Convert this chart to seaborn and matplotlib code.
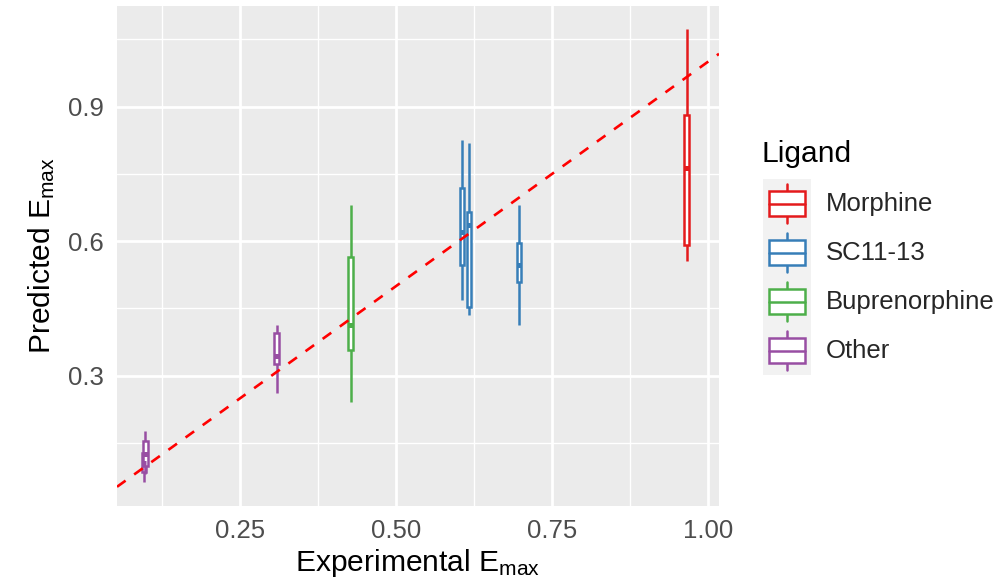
import numpy as np
import pandas as pd
import matplotlib
matplotlib.use("Agg")
import matplotlib.pyplot as plt
import seaborn as sns
from matplotlib.lines import Line2D
from matplotlib.patches import Rectangle
from matplotlib.legend_handler import HandlerBase

# ---------------- data ----------------
ligands = ["Morphine", "SC11-13", "Buprenorphine", "Other"]
ligand_colors = ["#E41A1C", "#377EB8", "#4DAF4A", "#984EA3"]

compound_ligand = ["Morphine", "SC11-13", "SC11-13", "SC11-13",
                   "Buprenorphine", "Other", "Other", "Other"]
experimental_emax = [0.966, 0.606, 0.617, 0.697, 0.427, 0.0955, 0.0975, 0.308]
pred_min = [0.556, 0.469, 0.435, 0.413, 0.241, 0.062, 0.080, 0.262]
pred_q1 = [0.592, 0.547, 0.454, 0.508, 0.357, 0.085, 0.098, 0.326]
pred_median = [0.763, 0.621, 0.636, 0.546, 0.413, 0.105, 0.125, 0.344]
pred_q3 = [0.882, 0.718, 0.666, 0.595, 0.565, 0.128, 0.154, 0.396]
pred_max = [1.074, 0.826, 0.820, 0.681, 0.681, 0.150, 0.177, 0.414]

x_ticks = [0.25, 0.50, 0.75, 1.00]
x_ticklabels = ["0.25", "0.50", "0.75", "1.00"]
x_minor = [0.125, 0.375, 0.625, 0.875]
y_ticks = [0.3, 0.6, 0.9]
y_ticklabels = ["0.3", "0.6", "0.9"]
y_minor = [0.15, 0.45, 0.75, 1.05]

rows = []
for lig, x, a, b, m, c, d in zip(compound_ligand, experimental_emax, pred_min,
                                  pred_q1, pred_median, pred_q3, pred_max):
    for v in (a, b, m, c, d):
        rows.append({"x": x, "y": v, "Ligand": lig})
df = pd.DataFrame(rows)

# ---------------- style ----------------
sns.set_theme(style="darkgrid")
plt.rcParams["font.family"] = ["Liberation Sans", "DejaVu Sans"]
plt.rcParams["mathtext.fontset"] = "custom"
plt.rcParams["mathtext.rm"] = "Liberation Sans"
plt.rcParams["mathtext.it"] = "Liberation Sans:italic"
plt.rcParams["mathtext.bf"] = "Liberation Sans:bold"

W, H = 1003, 586
fig = plt.figure(figsize=(W / 100, H / 100), dpi=100)
fig.patch.set_facecolor("white")
px_l, px_r, px_t, px_b = 117, 719, 6, 505.5
ax = fig.add_axes([px_l / W, 1 - px_b / H, (px_r - px_l) / W, (px_b - px_t) / H])
ax.set_facecolor("#EBEBEB")

LW = 1.8
BOX_W = 0.0072

for lig, col in zip(ligands, ligand_colors):
    sub = df[df["Ligand"] == lig]
    ux = np.unique(sub["x"])
    nw = np.min(np.diff(ux)) if len(ux) > 1 else 1.0
    sns.boxplot(data=sub, x="x", y="y", native_scale=True, orient="x",
                width=BOX_W / nw, fill=True, color="white", linecolor=col,
                linewidth=LW, whis=(0, 100), showcaps=False, showfliers=False,
                medianprops={"linewidth": 2 * LW}, ax=ax)

ax.axline((0, 0), slope=1, color="#FF0000", lw=1.9, ls=(0, (4, 4)), zorder=5)

ax.set_xlim(0.052, 1.018)
ax.set_ylim(0.0103, 1.1247)
ax.set_xticks(x_ticks)
ax.set_xticklabels(x_ticklabels)
ax.set_yticks(y_ticks)
ax.set_yticklabels(y_ticklabels)
ax.set_xticks(x_minor, minor=True)
ax.set_yticks(y_minor, minor=True)
ax.grid(which="major", color="white", linewidth=2.0)
ax.grid(which="minor", color="white", linewidth=1.0)
ax.set_axisbelow(True)
for s in ax.spines.values():
    s.set_visible(False)
ax.tick_params(which="major", length=5.5, width=1.4, color="#333333",
               labelcolor="#4D4D4D", labelsize=18.5, pad=4, direction="out")
ax.tick_params(which="minor", length=0)

ax.set_xlabel("Experimental E$_{\\mathrm{max}}$", fontsize=21.6, color="black", labelpad=3)
ax.set_ylabel("Predicted E$_{\\mathrm{max}}$", fontsize=21.6, color="black", labelpad=8)


# ---------------- legend ----------------
class BoxKey:
    def __init__(self, color):
        self.color = color


class BoxKeyHandler(HandlerBase):
    def create_artists(self, legend, orig_handle, xdescent, ydescent, width,
                       height, fontsize, trans):
        x0, y0 = -xdescent, -ydescent
        c = orig_handle.color
        arts = [
            Rectangle((x0, y0), width, height, facecolor="#F2F2F2",
                      edgecolor="none", transform=trans),
            Line2D([x0 + 0.5 * width] * 2, [y0 + 0.1 * height, y0 + 0.25 * height],
                   color=c, lw=LW, transform=trans),
            Line2D([x0 + 0.5 * width] * 2, [y0 + 0.75 * height, y0 + 0.9 * height],
                   color=c, lw=LW, transform=trans),
            Rectangle((x0 + 0.125 * width, y0 + 0.25 * height), 0.75 * width,
                      0.5 * height, facecolor="white", edgecolor=c, lw=LW,
                      transform=trans),
            Line2D([x0 + 0.125 * width, x0 + 0.875 * width], [y0 + 0.5 * height] * 2,
                   color=c, lw=LW, transform=trans),
        ]
        return arts


fs_leg = 18.5
fs_px = fs_leg * 100 / 72
key_w_px, key_h_px = 48, 49
# matplotlib: entry height = fontsize * (hh - 0.35 * (hh - 0.7))
hh = (key_h_px / fs_px - 0.245) / 0.65
fig.legend(handles=[BoxKey(c) for c in ligand_colors], labels=ligands,
           handler_map={BoxKey: BoxKeyHandler()}, loc="upper left",
           bbox_to_anchor=(762.5 / W, 1 - 179 / H), bbox_transform=fig.transFigure,
           frameon=False, fontsize=fs_leg, handlelength=key_w_px / fs_px,
           handleheight=hh, labelspacing=0, handletextpad=0.58,
           borderpad=0, borderaxespad=0)
fig.text(762 / W, 1 - 161.7 / H, "Ligand", fontsize=21.6, color="black",
         ha="left", va="baseline")

fig.savefig("out.png", dpi=100)
